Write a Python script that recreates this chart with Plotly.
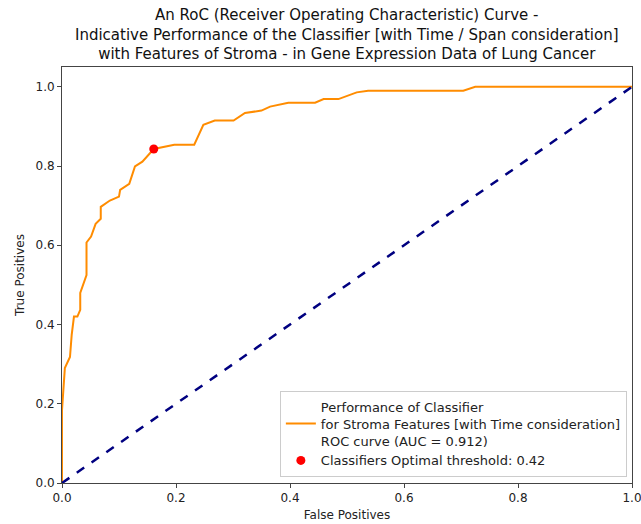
import plotly.graph_objects as go

fpr = [0.0, 0.0, 0.005, 0.014, 0.017, 0.021, 0.027, 0.032, 0.032, 0.043, 0.043,
       0.051, 0.059, 0.068, 0.068, 0.084, 0.100, 0.102, 0.118, 0.128, 0.141, 0.161,
       0.197, 0.232, 0.248, 0.268, 0.301, 0.321, 0.350, 0.365, 0.397, 0.444, 0.459,
       0.485, 0.517, 0.537, 0.704, 0.725, 1.0]
tpr = [0.0, 0.184, 0.29, 0.318, 0.374, 0.42, 0.42, 0.437, 0.48, 0.525, 0.607,
       0.622, 0.654, 0.667, 0.697, 0.713, 0.723, 0.740, 0.755, 0.799, 0.811, 0.843,
       0.854, 0.854, 0.904, 0.915, 0.915, 0.934, 0.940, 0.950, 0.960, 0.960, 0.969,
       0.969, 0.986, 0.99, 0.99, 1.0, 1.0]
diag = [0.0, 1.0]
opt_fpr = [0.161]
opt_tpr = [0.843]

title_lines = ["An RoC (Receiver Operating Characteristic) Curve -",
               "Indicative Performance of the Classifier [with Time / Span consideration]",
               "with Features of Stroma - in Gene Expression Data of Lung Cancer"]
roc_label = ["Performance of Classifier",
             "for Stroma Features [with Time consideration]",
             "ROC curve (AUC = 0.912)"]
opt_label = "Classifiers Optimal threshold: 0.42"
tick_vals = [0.0, 0.2, 0.4, 0.6, 0.8, 1.0]
tick_text = ["0.0", "0.2", "0.4", "0.6", "0.8", "1.0"]

font = "DejaVu Sans"
fig = go.Figure()
fig.add_trace(go.Scatter(x=fpr, y=tpr, mode="lines",
                         line=dict(color="darkorange", width=2),
                         name="<br>".join(roc_label)))
fig.add_trace(go.Scatter(x=diag, y=diag, mode="lines",
                         line=dict(color="navy", width=2.5, dash="dash"),
                         showlegend=False))
fig.add_trace(go.Scatter(x=opt_fpr, y=opt_tpr, mode="markers",
                         marker=dict(color="red", size=9),
                         name=opt_label))

axis_common = dict(showgrid=False, zeroline=False, showline=True, linecolor="#444444",
                   linewidth=1, mirror=True, ticks="outside", ticklen=4,
                   tickcolor="#444444", tickvals=tick_vals, ticktext=tick_text,
                   ticklabeloverflow="allow", automargin=False,
                   tickfont=dict(family=font, size=12, color="#222222"))
fig.update_layout(
    width=641, height=524,
    margin=dict(l=62, r=9, t=67, b=41),
    paper_bgcolor="white", plot_bgcolor="white",
    font=dict(family=font, color="#222222"),
    xaxis=dict(range=[0, 1.0], title=dict(text="False Positives",
               font=dict(family=font, size=12), standoff=6), **axis_common),
    yaxis=dict(range=[0, 1.05], title=dict(text="True Positives",
               font=dict(family=font, size=12), standoff=8), **axis_common),
    legend=dict(x=0.991, y=0.015, xanchor="right", yanchor="bottom",
                bgcolor="rgba(255,255,255,0.85)", bordercolor="#cccccc", borderwidth=1,
                font=dict(family=font, size=13, color="#222222"),
                tracegroupgap=0),
    annotations=[dict(text="<br>".join(title_lines), x=0.5, xref="paper",
                      y=1, yref="paper", yanchor="bottom", xanchor="center",
                      yshift=2, showarrow=False, align="center",
                      font=dict(family=font, size=15, color="#111111"))],
)
fig.write_html("out.html")
